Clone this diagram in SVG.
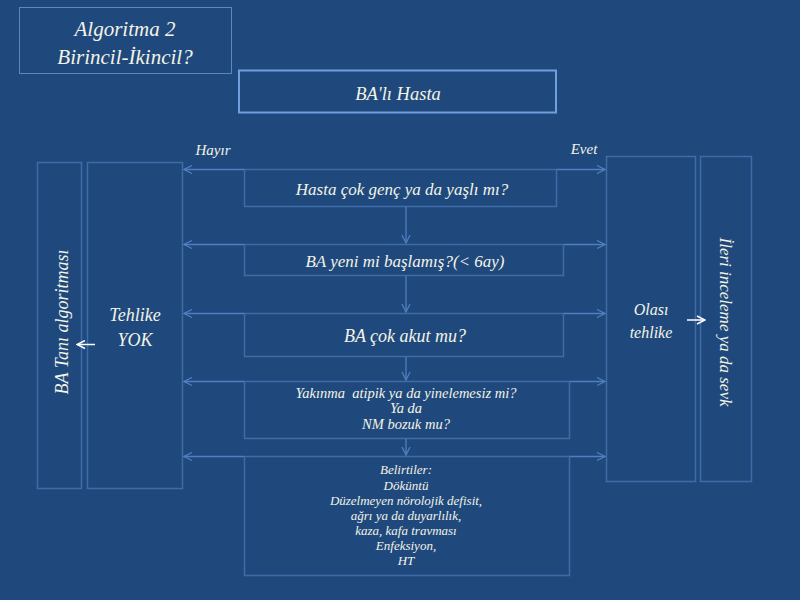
<svg xmlns="http://www.w3.org/2000/svg" width="800" height="600" viewBox="0 0 800 600">
<style>
text{font-family:"Liberation Serif","DejaVu Serif",serif;font-style:italic;fill:#f3f3e6;text-anchor:middle}
.box{fill:none;stroke:#3f6ca8;stroke-width:1.5}
.hbox{fill:none;stroke:#6f9fdc;stroke-width:2}
.tbox{fill:none;stroke:#5a88c4;stroke-width:1}
.con{fill:none;stroke:#4f7fbe;stroke-width:1.3}
.w{fill:none;stroke:#ffffff;stroke-width:1.5}
</style>
<defs>
<marker id="ah" viewBox="0 0 10 10" refX="9" refY="5" markerWidth="10" markerHeight="10" markerUnits="userSpaceOnUse" orient="auto">
<path d="M1,1 L9,5 L1,9" fill="none" stroke="#4f7fbe" stroke-width="1.3"/>
</marker>
<marker id="wh" viewBox="0 0 10 10" refX="9" refY="5" markerWidth="10" markerHeight="10" markerUnits="userSpaceOnUse" orient="auto">
<path d="M1,1 L9,5 L1,9" fill="none" stroke="#ffffff" stroke-width="1.5"/>
</marker>
</defs>
<rect width="800" height="600" fill="#1f497d"/>

<g id="title">
<rect class="tbox" x="19.5" y="7.5" width="212" height="66"/>
<text x="125" y="36" font-size="21">Algoritma 2</text>
<text x="125" y="64" font-size="21">Birincil-İkincil?</text>
</g>

<g id="n-start">
<rect class="hbox" x="239" y="70.5" width="317" height="42"/>
<text x="398" y="100" font-size="18.5">BA'lı Hasta</text>
</g>

<g id="n-q1">
<rect class="box" x="244.5" y="169.5" width="312" height="37"/>
<text x="402" y="194.5" font-size="17">Hasta çok genç ya da yaşlı mı?</text>
</g>

<g id="n-q2">
<rect class="box" x="244.5" y="244.5" width="319" height="31"/>
<text x="405" y="266.5" font-size="17">BA yeni mi başlamış?(&lt; 6ay)</text>
</g>

<g id="n-q3">
<rect class="box" x="244.5" y="313.5" width="319" height="43"/>
<text x="405" y="341.5" font-size="18">BA çok akut mu?</text>
</g>

<g id="n-q4">
<rect class="box" x="244.5" y="381.5" width="325" height="57"/>
<text x="406" y="397.5" font-size="14.5" xml:space="preserve">Yakınma  atipik ya da yinelemesiz mi?</text>
<text x="406" y="413" font-size="14.5">Ya da</text>
<text x="406" y="428.5" font-size="14.5">NM bozuk mu?</text>
</g>

<g id="n-q5">
<rect class="box" x="244.5" y="456.5" width="325" height="119"/>
<text x="406" y="474" font-size="13">Belirtiler:</text>
<text x="406" y="489.5" font-size="13">Döküntü</text>
<text x="406" y="504.5" font-size="13">Düzelmeyen nörolojik defisit,</text>
<text x="406" y="519.5" font-size="13">ağrı ya da duyarlılık,</text>
<text x="406" y="535" font-size="13">kaza, kafa travması</text>
<text x="406" y="550" font-size="13">Enfeksiyon,</text>
<text x="406" y="564.5" font-size="13">HT</text>
</g>

<g id="n-no">
<rect class="box" x="87.5" y="162.5" width="95" height="326"/>
<text x="135" y="321" font-size="18">Tehlike</text>
<text x="135" y="346" font-size="18">YOK</text>
</g>

<g id="n-diag">
<rect class="box" x="37.5" y="162.5" width="44" height="326"/>
<text transform="translate(68,322) rotate(-90)" font-size="18">BA Tanı algoritması</text>
</g>

<g id="n-yes">
<rect class="box" x="606.5" y="156.5" width="89" height="325"/>
<text x="651" y="315" font-size="16">Olası</text>
<text x="651" y="338" font-size="16">tehlike</text>
</g>

<g id="n-refer">
<rect class="box" x="700.5" y="156.5" width="51" height="325"/>
<text transform="translate(720,322) rotate(90)" font-size="17">İleri inceleme ya da sevk</text>
</g>

<g id="labels">
<text x="213" y="155" font-size="15">Hayır</text>
<text x="584" y="154" font-size="15">Evet</text>
</g>

<g id="connectors">
<line class="con" x1="406" y1="207" x2="406" y2="243" marker-end="url(#ah)"/>
<line class="con" x1="406" y1="276" x2="406" y2="312" marker-end="url(#ah)"/>
<line class="con" x1="406" y1="357" x2="406" y2="380" marker-end="url(#ah)"/>
<line class="con" x1="406" y1="439" x2="406" y2="455" marker-end="url(#ah)"/>

<line class="con" x1="244" y1="169.5" x2="184" y2="169.5" marker-end="url(#ah)"/>
<line class="con" x1="244" y1="244.5" x2="184" y2="244.5" marker-end="url(#ah)"/>
<line class="con" x1="244" y1="313.5" x2="184" y2="313.5" marker-end="url(#ah)"/>
<line class="con" x1="244" y1="381.5" x2="184" y2="381.5" marker-end="url(#ah)"/>
<line class="con" x1="244" y1="456.5" x2="184" y2="456.5" marker-end="url(#ah)"/>

<line class="con" x1="557" y1="169.5" x2="605" y2="169.5" marker-end="url(#ah)"/>
<line class="con" x1="564" y1="244.5" x2="605" y2="244.5" marker-end="url(#ah)"/>
<line class="con" x1="564" y1="313.5" x2="605" y2="313.5" marker-end="url(#ah)"/>
<line class="con" x1="570" y1="381.5" x2="605" y2="381.5" marker-end="url(#ah)"/>
<line class="con" x1="570" y1="456.5" x2="605" y2="456.5" marker-end="url(#ah)"/>

<line class="w" x1="95" y1="344.5" x2="77" y2="344.5" marker-end="url(#wh)"/>
<line class="w" x1="687" y1="320" x2="705" y2="320" marker-end="url(#wh)"/>
</g>
</svg>
